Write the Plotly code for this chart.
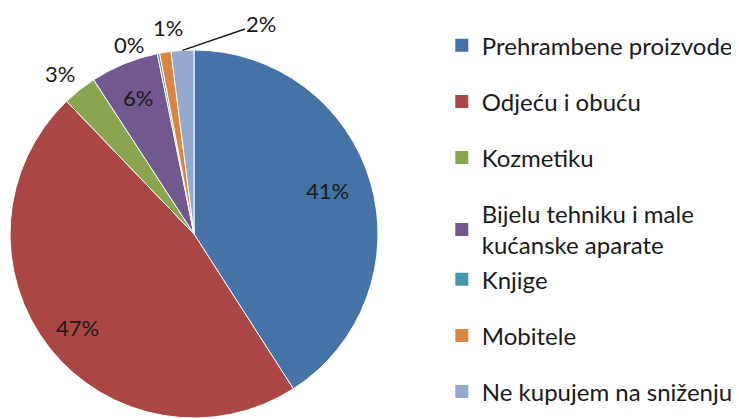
import math
import plotly.graph_objects as go

categories = [
    "Prehrambene proizvode",
    "Odjeću i obuću",
    "Kozmetiku",
    "Bijelu tehniku i male<br>kućanske aparate",
    "Knjige",
    "Mobitele",
    "Ne kupujem na sniženju",
]
shares = [41, 47, 3, 6, 0.2, 1, 2]
colors = ["#4572A7", "#AA4643", "#89A54E", "#71588F", "#4198AF", "#DB843D", "#93A9CF"]
# Bijelu and Knjige share a group so the two-line entry keeps the spacing
legend_groups = ["g1", "g2", "g3", "g4", "g4", "g5", "g6"]

FONT = "Lato"
W, H = 739, 419
OFF = 8  # page body margin


def to_paper(sx, sy):
    return (sx - OFF) / W, 1 - (sy - OFF) / H


# pie box in screen pixels (square)
px_left, px_right, px_top, px_bottom = 10, 378, 50, 418
cx = (px_left + px_right) / 2
cy = (px_top + px_bottom) / 2
R = (px_right - px_left) / 2

# label placement (radius factor, extra x/y shift in px)
lab_r = [0.77, 0.81, 1.14, 0.80, 1.12, 1.15, 1.0]
lab_dx = [-2, 1, -4, 0, -25, 7, 0]
lab_dy = [-4, 1, 4, 0, 13, 3, 0]

fig = go.Figure()

x0, y1 = to_paper(px_left, px_top)
x1, y0 = to_paper(px_right, px_bottom)
fig.add_trace(
    go.Pie(
        labels=categories,
        values=shares,
        sort=False,
        direction="clockwise",
        rotation=0,
        marker=dict(colors=colors, line=dict(color="white", width=1)),
        textinfo="none",
        showlegend=False,
        domain=dict(x=[max(x0, 0), x1], y=[max(y0, 0), y1]),
        hoverinfo="label+percent",
    )
)

# percentage labels at the slice mid-angles
total = sum(shares)
cum = 0
for i, v in enumerate(shares):
    mid = (cum + v / 2) / total * 2 * math.pi
    cum += v
    txt = f"{round(100 * v / total)}%"
    if i == 6:
        # small last slice: label pulled out with a leader line
        ex = cx + R * math.sin(mid)
        ey = cy - R * math.cos(mid)
        px_, py_ = to_paper(ex, ey)
        fig.add_annotation(
            x=px_, y=py_, xref="paper", yref="paper",
            xanchor="center", yanchor="middle",
            text=txt, showarrow=True, arrowhead=0, arrowwidth=1.5,
            arrowcolor="#1a1a1a", ax=79, ay=-27, standoff=0,
            font=dict(family=FONT, size=22, color="#1a1a1a"),
        )
        continue
    lx = cx + R * lab_r[i] * math.sin(mid) + lab_dx[i]
    ly = cy - R * lab_r[i] * math.cos(mid) + lab_dy[i]
    px_, py_ = to_paper(lx, ly)
    fig.add_annotation(
        x=px_, y=py_, xref="paper", yref="paper",
        xanchor="center", yanchor="middle",
        text=txt, showarrow=False,
        font=dict(family=FONT, size=22, color="#1a1a1a"),
    )

# legend entries
for name, col, grp in zip(categories, colors, legend_groups):
    fig.add_trace(
        go.Scatter(
            x=[None], y=[None],
            mode="markers",
            marker=dict(symbol="square", size=13, color=col),
            name=name,
            legendgroup=grp,
            showlegend=True,
        )
    )

fig.update_layout(
    width=W,
    height=H,
    margin=dict(l=0, r=0, t=0, b=0),
    paper_bgcolor="white",
    plot_bgcolor="white",
    font=dict(family=FONT, color="#1a1a1a"),
    xaxis=dict(visible=False),
    yaxis=dict(visible=False),
    legend=dict(
        x=0.587,
        y=0.964,
        xanchor="left",
        yanchor="top",
        font=dict(family=FONT, size=24, color="#1a1a1a"),
        tracegroupgap=22,
        bgcolor="rgba(0,0,0,0)",
    ),
)

fig.write_html("out.html")
